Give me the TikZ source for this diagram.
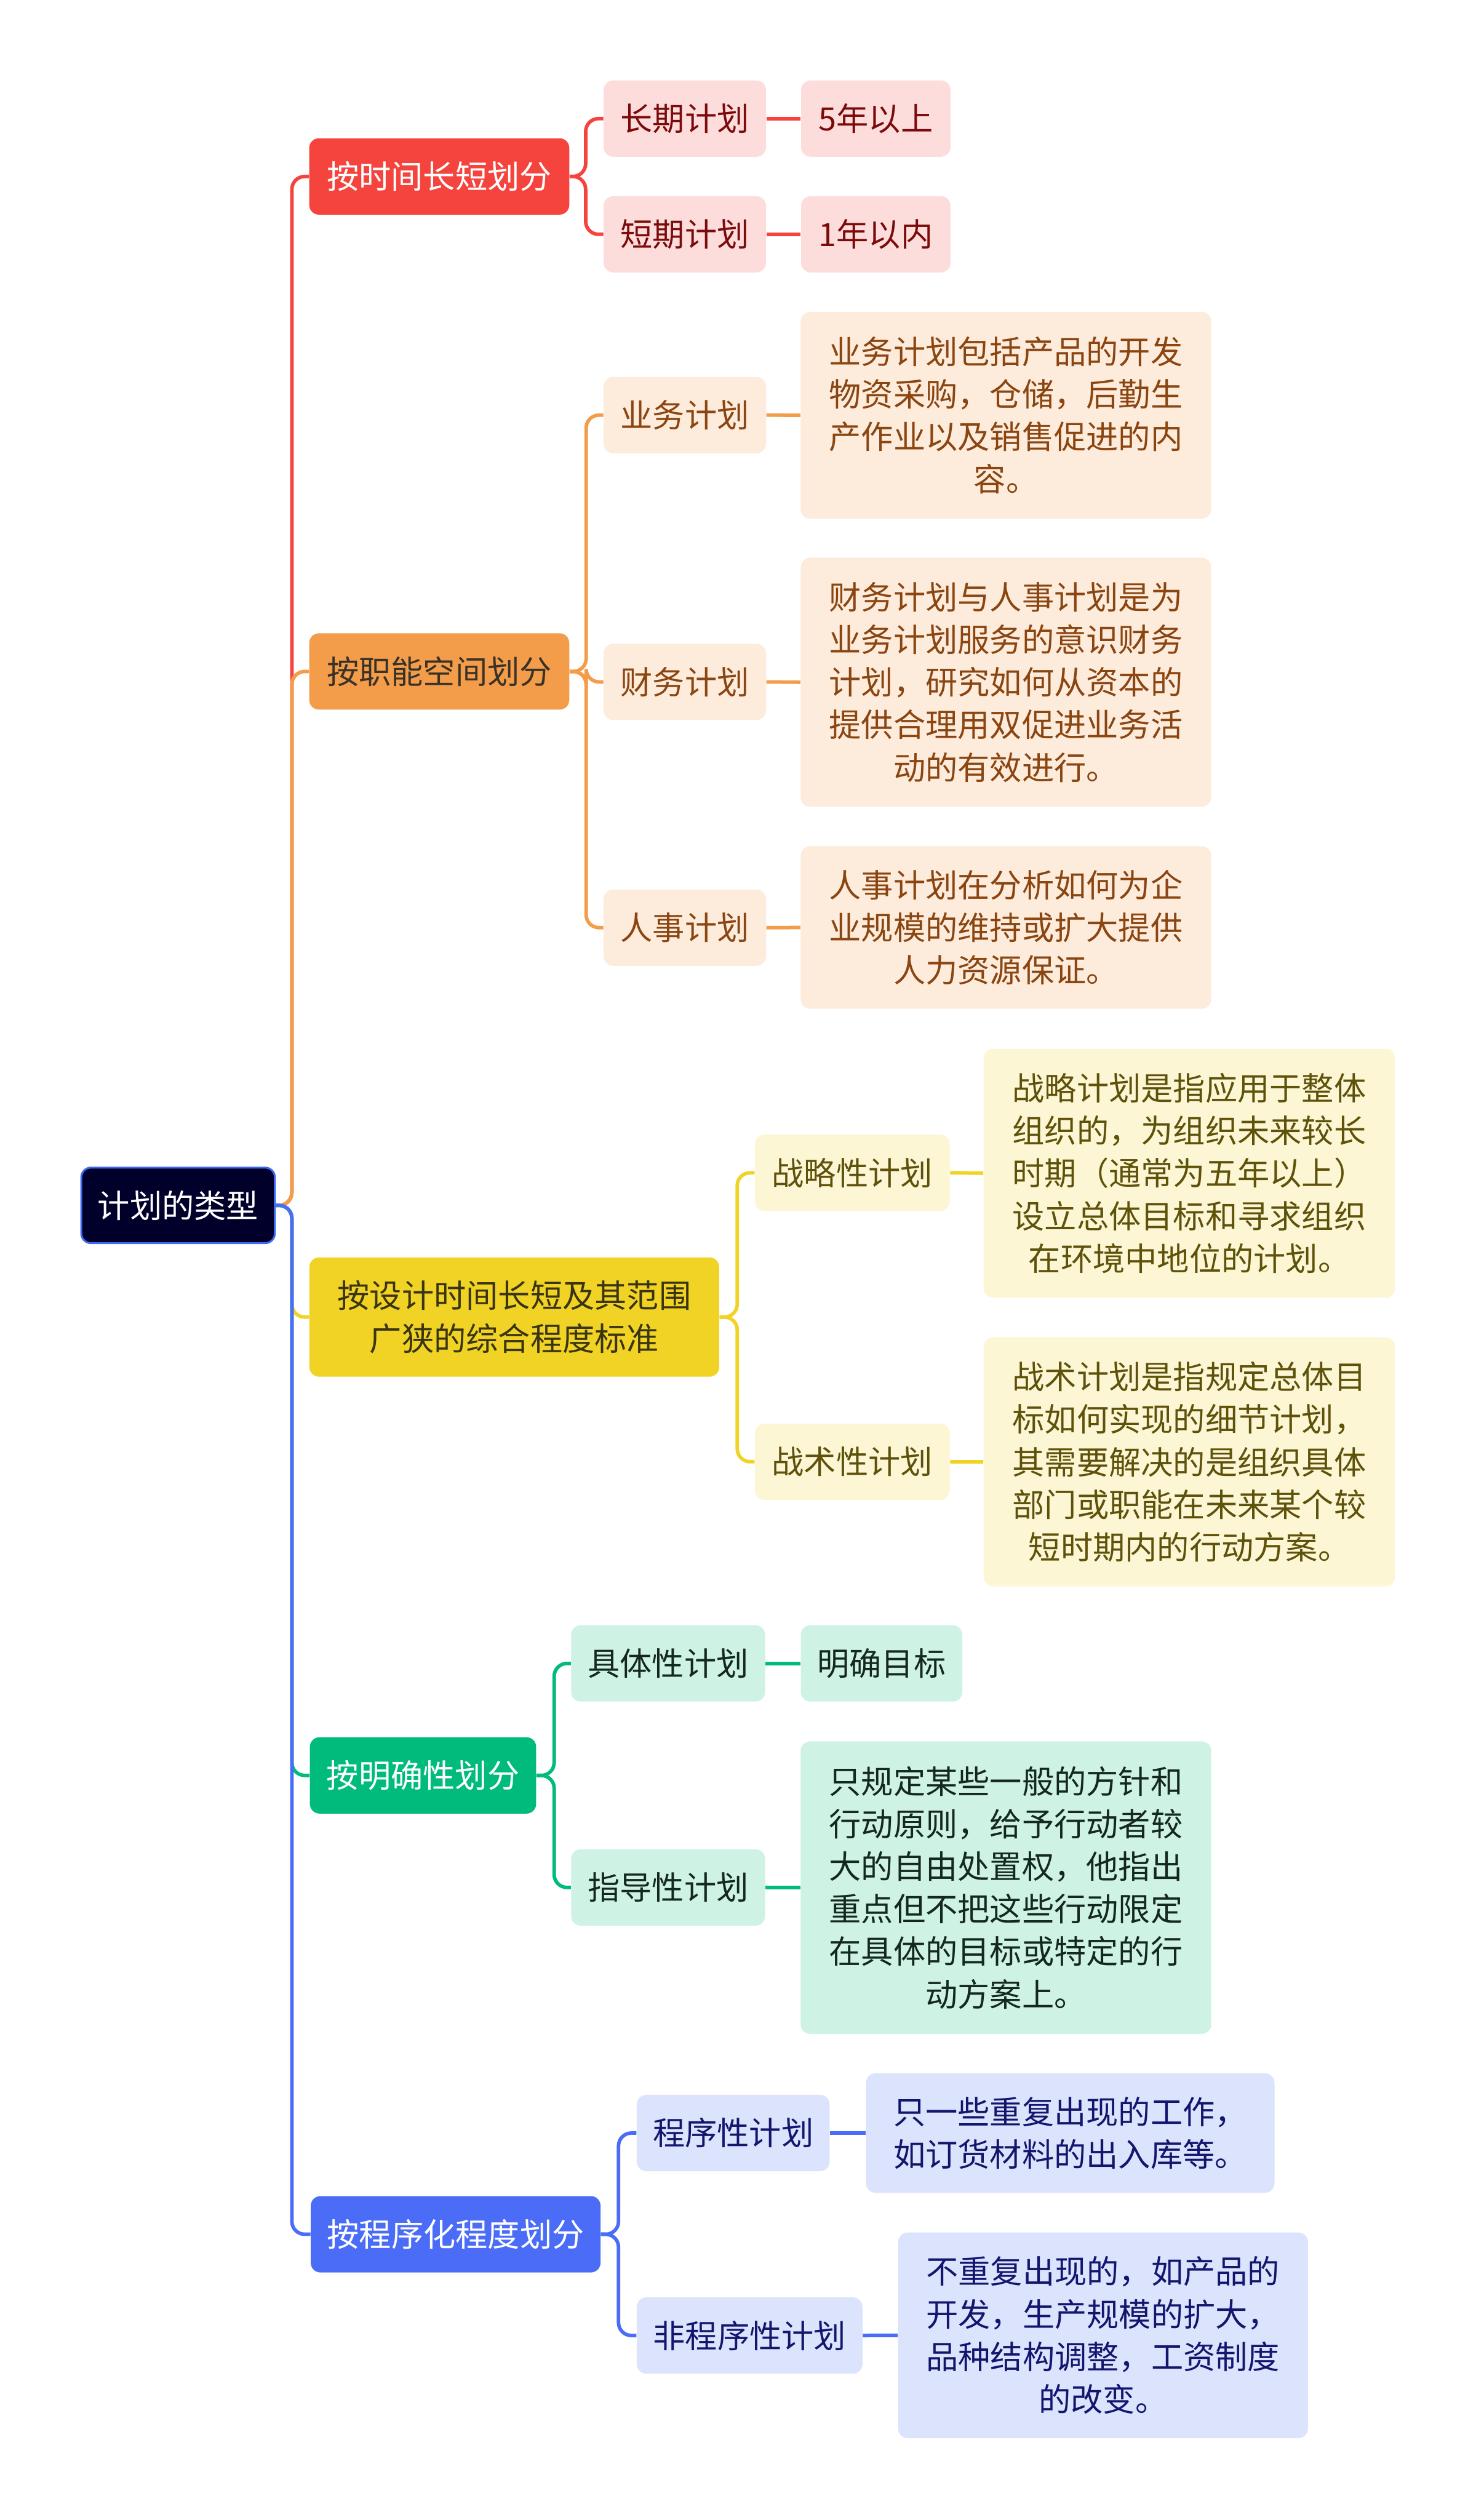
\documentclass[tikz,border=0pt]{standalone}
\usepackage{fontspec}
\newfontfamily\cjk{Noto Sans CJK SC}
\definecolor{rootfill}{HTML}{00002A}
\definecolor{rootborder}{HTML}{3F6AF0}
\definecolor{redM}{HTML}{F5443E}
\definecolor{redL}{HTML}{FDDDDC}
\definecolor{redT}{HTML}{7B0B0B}
\definecolor{oraM}{HTML}{F39D4B}
\definecolor{oraL}{HTML}{FDEBDC}
\definecolor{oraT}{HTML}{8A4510}
\definecolor{oraMT}{HTML}{3A3226}
\definecolor{yelM}{HTML}{F1D326}
\definecolor{yelL}{HTML}{FCF6D5}
\definecolor{yelT}{HTML}{5E520A}
\definecolor{yelMT}{HTML}{3A3410}
\definecolor{grnM}{HTML}{00BB7B}
\definecolor{grnL}{HTML}{CEF2E3}
\definecolor{grnT}{HTML}{14281E}
\definecolor{bluM}{HTML}{4A6CF7}
\definecolor{bluL}{HTML}{DCE3FD}
\definecolor{bluT}{HTML}{14166E}
\tikzset{
  box/.style={rounded corners=6pt, inner sep=0pt, align=center,
    font=\cjk\fontsize{20}{26.5}\selectfont},
  rootbox/.style={box, fill=rootfill, draw=rootborder, line width=1.2pt, text=white},
  lone/.style={box, minimum height=47.5pt},
  ltwo/.style={box, minimum height=47.5pt},
  tbox/.style={box, text width=220pt, minimum width=255.5pt},
  link/.style={line width=2.2pt, rounded corners=8pt},
}
\begin{document}
\begin{tikzpicture}[x=1pt,y=-1pt]
\useasboundingbox (0,0) rectangle (918,1568);
% root
\node[rootbox, minimum width=120.4pt, minimum height=47pt] (root) at (110.8,750) {计划的类型};
% level 1
\node[lone, fill=redM, text=white, minimum width=161.8pt] (red) at (273.3,109.8) {按时间长短划分};
\node[lone, fill=oraM, text=oraMT, minimum width=161.8pt] (ora) at (273.3,417.8) {按职能空间划分};
\node[box, fill=yelM, text=yelMT, minimum width=255pt, minimum height=74.2pt] (yel) at (320,819.5) {按设计时间长短及其范围\\广狭的综合程度标准};
\node[lone, fill=grnM, text=white, minimum width=140.8pt] (grn) at (263.2,1104.7) {按明确性划分};
\node[lone, fill=bluM, text=white, minimum width=180.3pt] (blu) at (283.5,1390.2) {按程序化程度划分};
% red children
\node[ltwo, fill=redL, text=redT, minimum width=101pt] (r1) at (426.1,73.8) {长期计划};
\node[ltwo, fill=redL, text=redT, minimum width=101pt] (r2) at (426.1,145.8) {短期计划};
\node[ltwo, fill=redL, text=redT, minimum width=93pt] (r1a) at (544.9,73.8) {5年以上};
\node[ltwo, fill=redL, text=redT, minimum width=93pt] (r2a) at (544.9,145.8) {1年以内};
% orange children
\node[ltwo, fill=oraL, text=oraT, minimum width=101pt] (o1) at (426.1,258.3) {业务计划};
\node[ltwo, fill=oraL, text=oraT, minimum width=101pt] (o2) at (426.1,424.3) {财务计划};
\node[ltwo, fill=oraL, text=oraT, minimum width=101pt] (o3) at (426.1,577.2) {人事计划};
\node[tbox, fill=oraL, text=oraT, minimum height=128.7pt] (o1a) at (625.9,258.4) {业务计划包括产品的开发\\物资采购，仓储，后勤生\\产作业以及销售促进的内\\容。};
\node[tbox, fill=oraL, text=oraT, minimum height=155pt] (o2a) at (625.9,424.5) {财务计划与人事计划是为\\业务计划服务的意识财务\\计划，研究如何从资本的\\提供合理用双促进业务活\\动的有效进行。};
\node[tbox, fill=oraL, text=oraT, minimum height=101.2pt] (o3a) at (625.9,577.1) {人事计划在分析如何为企\\业规模的维持或扩大提供\\人力资源保证。};
% yellow children
\node[ltwo, fill=yelL, text=yelT, minimum width=121.3pt] (y1) at (530.3,729.7) {战略性计划};
\node[ltwo, fill=yelL, text=yelT, minimum width=121.3pt] (y2) at (530.3,909.5) {战术性计划};
\node[tbox, fill=yelL, text=yelT, minimum width=256pt, minimum height=155pt] (y1a) at (740,730) {战略计划是指应用于整体\\组织的，为组织未来较长\\时期（通常为五年以上）\\设立总体目标和寻求组织\\在环境中地位的计划。};
\node[tbox, fill=yelL, text=yelT, minimum width=256pt, minimum height=155pt] (y2a) at (740,909.6) {战术计划是指规定总体目\\标如何实现的细节计划，\\其需要解决的是组织具体\\部门或职能在未来某个较\\短时期内的行动方案。};
% green children
\node[ltwo, fill=grnL, text=grnT, minimum width=120.7pt] (g1) at (415.7,1035) {具体性计划};
\node[ltwo, fill=grnL, text=grnT, minimum width=100.5pt] (g1a) at (548.5,1035) {明确目标};
\node[ltwo, fill=grnL, text=grnT, minimum width=120.7pt] (g2) at (415.7,1174.4) {指导性计划};
\node[tbox, fill=grnL, text=grnT, minimum height=182pt] (g2a) at (625.9,1174.5) {只规定某些一般的方针和\\行动原则，给予行动者较\\大的自由处置权，他指出\\重点但不把这些行动限定\\在具体的目标或特定的行\\动方案上。};
% blue children
\node[ltwo, fill=bluL, text=bluT, minimum width=120pt] (b1) at (456.2,1327.2) {程序性计划};
\node[ltwo, fill=bluL, text=bluT, minimum width=140.4pt] (b2) at (466.4,1453.2) {非程序性计划};
\node[tbox, fill=bluL, text=bluT, minimum width=254.2pt, minimum height=74.4pt] (b1a) at (665.9,1327.2) {只一些重复出现的工作，\\如订货材料的出入库等。};
\node[tbox, fill=bluL, text=bluT, minimum width=255pt, minimum height=128pt] (b2a) at (686.3,1453.1) {不重复出现的，如产品的\\开发，生产规模的扩大，\\品种结构调整，工资制度\\的改变。};
% root connectors
\coordinate (trunk) at (181.6,750);
\draw[link, redM] (root.east) -- (trunk) |- (red.west);
\draw[link, oraM] (root.east) -- (trunk) |- (ora.west);
\draw[link, yelM] (root.east) -- (trunk) |- (yel.west);
\draw[link, grnM] (root.east) -- (trunk) |- (grn.west);
\draw[link, bluM] (root.east) -- (trunk) |- (blu.west);
% red
\draw[link, redM] (red.east) -- ++(10,0) |- (r1.west);
\draw[link, redM] (red.east) -- ++(10,0) |- (r2.west);
\draw[link, redM] (r1.east) -- (r1a.west);
\draw[link, redM] (r2.east) -- (r2a.west);
% orange
\draw[link, oraM] (ora.east) -- ++(10.3,0) |- (o1.west);
\draw[link, oraM] (ora.east) -- ++(10.3,0) |- (o2.west);
\draw[link, oraM] (ora.east) -- ++(10.3,0) |- (o3.west);
\draw[link, oraM] (o1.east) -- (o1a.west);
\draw[link, oraM] (o2.east) -- (o2a.west);
\draw[link, oraM] (o3.east) -- (o3a.west);
% yellow
\draw[link, yelM] (yel.east) -- ++(11,0) |- (y1.west);
\draw[link, yelM] (yel.east) -- ++(11,0) |- (y2.west);
\draw[link, yelM] (y1.east) -- (y1a.west);
\draw[link, yelM] (y2.east) -- (y2a.west);
% green
\draw[link, grnM] (grn.east) -- ++(11,0) |- (g1.west);
\draw[link, grnM] (grn.east) -- ++(11,0) |- (g2.west);
\draw[link, grnM] (g1.east) -- (g1a.west);
\draw[link, grnM] (g2.east) -- (g2a.west);
% blue
\draw[link, bluM] (blu.east) -- ++(11,0) |- (b1.west);
\draw[link, bluM] (blu.east) -- ++(11,0) |- (b2.west);
\draw[link, bluM] (b1.east) -- (b1a.west);
\draw[link, bluM] (b2.east) -- (b2a.west);
\end{tikzpicture}
\end{document}
